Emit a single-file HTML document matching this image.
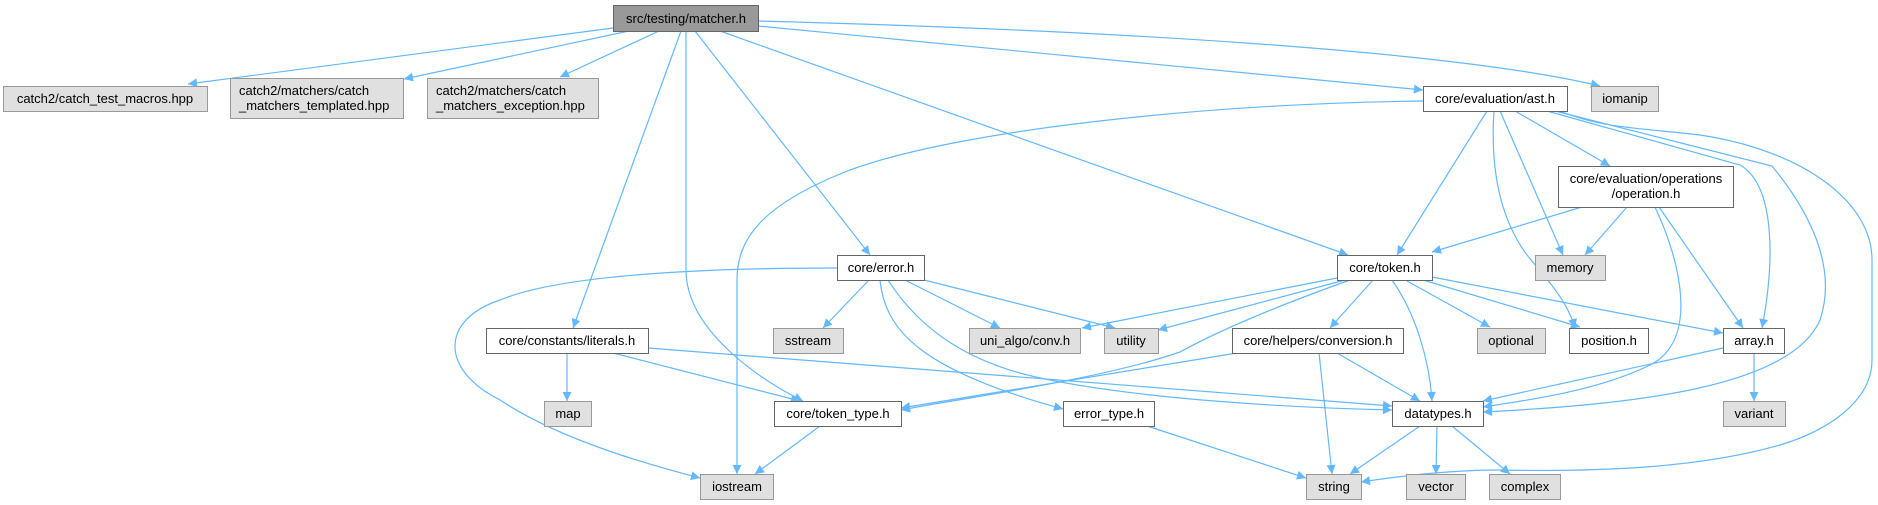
<!DOCTYPE html>
<html><head><meta charset="utf-8"><style>
body{margin:0;background:#fff;}
svg{display:block;font-family:"Liberation Sans",Arial,sans-serif;font-size:13px;}
</style></head><body>
<svg width="1878" height="505" viewBox="0 0 1878 505" xmlns="http://www.w3.org/2000/svg">
<defs>
<marker id="a" viewBox="0 0 10 10" refX="10" refY="5" markerWidth="10" markerHeight="9" markerUnits="userSpaceOnUse" orient="auto">
<path d="M0,0 L10,5 L0,10 z" fill="#63b8ff"/></marker>
</defs>
<g fill="none" stroke="#63b8ff" stroke-width="1.2" marker-end="url(#a)">
<path d="M613,28 L188,84"/>
<path d="M629,31 L404,79"/>
<path d="M659,31 L560,77"/>
<path d="M681,31 L573,328"/>
<path d="M686,31 L686,270 C686,330 760,380 803,401"/>
<path d="M695,31 L870,255"/>
<path d="M720,31 L1348,255"/>
<path d="M758,26 L1423,90"/>
<path d="M758,21 C1100,30 1450,50 1600,86"/>
<path d="M1423,101 C1200,104 960,130 850,170 C760,205 737,240 737,280 L737,474"/>
<path d="M1487,111 L1397,255"/>
<path d="M1494,111 C1490,170 1500,230 1540,270 C1560,295 1570,310 1575,328"/>
<path d="M1500,111 L1563,255"/>
<path d="M1515,111 L1610,166"/>
<path d="M1547,111 L1740,165 C1775,185 1775,260 1762,328"/>
<path d="M1555,111 L1772,166 C1800,200 1840,260 1820,320 C1790,390 1620,405 1483,412"/>
<path d="M1560,111 C1600,128 1640,128 1700,135 C1800,150 1872,200 1872,260 L1872,360 C1872,400 1830,430 1780,445 C1700,468 1600,472 1500,470 C1450,470 1400,476 1361,482"/>
<path d="M1582,207 L1432,252"/>
<path d="M1627,207 L1585,255"/>
<path d="M1659,207 L1743,328"/>
<path d="M1655,207 C1680,260 1700,340 1650,365 C1600,390 1530,400 1483,407"/>
<path d="M1337,278 L1082,328"/>
<path d="M1345,280 L1158,330"/>
<path d="M1350,280 C1280,305 1220,330 1180,352 C1100,380 950,400 901,410"/>
<path d="M1373,280 L1330,328"/>
<path d="M1392,280 C1420,320 1430,370 1432,401"/>
<path d="M1407,281 L1490,327"/>
<path d="M1423,280 L1580,327"/>
<path d="M1432,277 L1723,333"/>
<path d="M837,268 C700,268 560,275 500,300 C440,320 440,370 500,400 C560,440 650,465 700,478"/>
<path d="M869,280 L823,328"/>
<path d="M880,280 C885,330 920,370 1063,409"/>
<path d="M888,280 C920,330 970,365 1050,380 C1150,400 1300,408 1392,410"/>
<path d="M905,280 L1000,328"/>
<path d="M924,280 L1115,328"/>
<path d="M567,353 L567,401"/>
<path d="M613,353 L800,401"/>
<path d="M648,348 L1392,406"/>
<path d="M1237,353 L901,408"/>
<path d="M1319,353 L1332,474"/>
<path d="M1337,353 L1420,401"/>
<path d="M820,426 L755,474"/>
<path d="M1147,426 L1306,478"/>
<path d="M1420,426 L1350,474"/>
<path d="M1437,426 L1436,474"/>
<path d="M1452,426 L1510,474"/>
<path d="M1723,348 L1483,401"/>
<path d="M1754,353 L1754,401"/>
</g>
<g stroke-width="1">
<rect x="613.5" y="5.5" width="145" height="26" fill="#999" stroke="#666"/>
<rect x="3.5" y="86.5" width="204" height="25" fill="#e0e0e0" stroke="#999"/>
<rect x="230.5" y="78.5" width="173" height="40" fill="#e0e0e0" stroke="#999"/>
<rect x="427.5" y="78.5" width="171" height="40" fill="#e0e0e0" stroke="#999"/>
<rect x="1423.5" y="86.5" width="144" height="25" fill="#fff" stroke="#666"/>
<rect x="1591.5" y="86.5" width="67" height="25" fill="#e0e0e0" stroke="#999"/>
<rect x="1558.5" y="166.5" width="175" height="41" fill="#fff" stroke="#666"/>
<rect x="1535.5" y="255.5" width="70" height="25" fill="#e0e0e0" stroke="#999"/>
<rect x="1337.5" y="255.5" width="95" height="25" fill="#fff" stroke="#666"/>
<rect x="837.5" y="255.5" width="87" height="25" fill="#fff" stroke="#666"/>
<rect x="486.5" y="328.5" width="162" height="25" fill="#fff" stroke="#666"/>
<rect x="773.5" y="328.5" width="70" height="25" fill="#e0e0e0" stroke="#999"/>
<rect x="969.5" y="328.5" width="111" height="25" fill="#e0e0e0" stroke="#999"/>
<rect x="1104.5" y="328.5" width="54" height="25" fill="#e0e0e0" stroke="#999"/>
<rect x="1232.5" y="328.5" width="171" height="25" fill="#fff" stroke="#666"/>
<rect x="1477.5" y="328.5" width="68" height="25" fill="#e0e0e0" stroke="#999"/>
<rect x="1569.5" y="328.5" width="79" height="25" fill="#fff" stroke="#666"/>
<rect x="1723.5" y="328.5" width="61" height="25" fill="#fff" stroke="#666"/>
<rect x="544.5" y="401.5" width="47" height="25" fill="#e0e0e0" stroke="#999"/>
<rect x="774.5" y="401.5" width="127" height="25" fill="#fff" stroke="#666"/>
<rect x="1063.5" y="401.5" width="91" height="25" fill="#fff" stroke="#666"/>
<rect x="1392.5" y="401.5" width="91" height="25" fill="#fff" stroke="#666"/>
<rect x="1723.5" y="401.5" width="62" height="25" fill="#e0e0e0" stroke="#999"/>
<rect x="700.5" y="474.5" width="73" height="25" fill="#e0e0e0" stroke="#999"/>
<rect x="1306.5" y="474.5" width="55" height="25" fill="#e0e0e0" stroke="#999"/>
<rect x="1406.5" y="474.5" width="59" height="25" fill="#e0e0e0" stroke="#999"/>
<rect x="1489.5" y="474.5" width="71" height="25" fill="#e0e0e0" stroke="#999"/>
</g>
<g fill="#000" text-anchor="middle">
<text x="686" y="23">src/testing/matcher.h</text>
<text x="105" y="103">catch2/catch_test_macros.hpp</text>
<text x="239" y="95" text-anchor="start">catch2/matchers/catch</text>
<text x="239" y="110" text-anchor="start">_matchers_templated.hpp</text>
<text x="436" y="95" text-anchor="start">catch2/matchers/catch</text>
<text x="436" y="110" text-anchor="start">_matchers_exception.hpp</text>
<text x="1495" y="103">core/evaluation/ast.h</text>
<text x="1625" y="103">iomanip</text>
<text x="1646" y="183">core/evaluation/operations</text>
<text x="1646" y="198">/operation.h</text>
<text x="1570" y="272">memory</text>
<text x="1385" y="272">core/token.h</text>
<text x="881" y="272">core/error.h</text>
<text x="567" y="345">core/constants/literals.h</text>
<text x="808" y="345">sstream</text>
<text x="1025" y="345">uni_algo/conv.h</text>
<text x="1131" y="345">utility</text>
<text x="1318" y="345">core/helpers/conversion.h</text>
<text x="1511" y="345">optional</text>
<text x="1609" y="345">position.h</text>
<text x="1754" y="345">array.h</text>
<text x="568" y="418">map</text>
<text x="838" y="418">core/token_type.h</text>
<text x="1109" y="418">error_type.h</text>
<text x="1438" y="418">datatypes.h</text>
<text x="1754" y="418">variant</text>
<text x="737" y="491">iostream</text>
<text x="1334" y="491">string</text>
<text x="1436" y="491">vector</text>
<text x="1525" y="491">complex</text>
</g>
</svg>
</body></html>
